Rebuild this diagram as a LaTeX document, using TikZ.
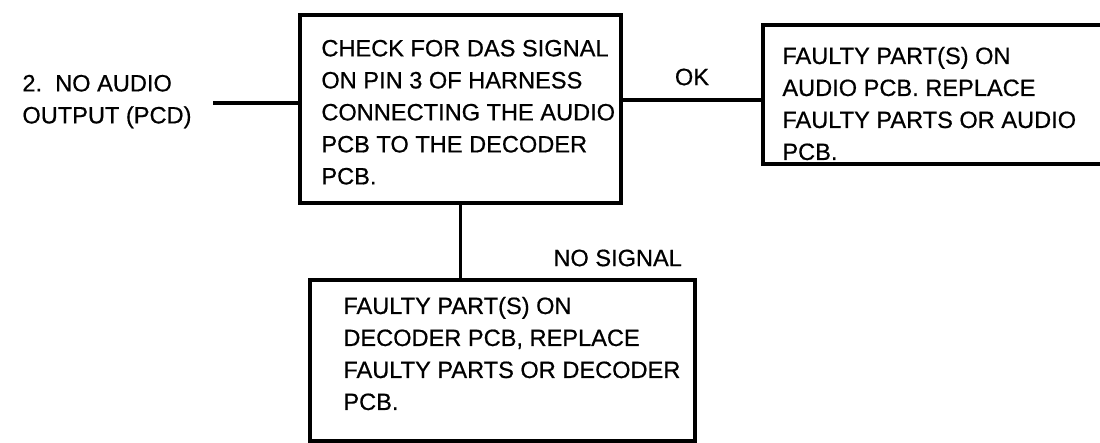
\documentclass[tikz,border=0pt]{standalone}
\usepackage{fontspec}
\setmainfont{Liberation Sans}[FakeBold=0.6]
\begin{document}
\begin{tikzpicture}[x=0.5pt,y=-0.5pt,
  box/.style={draw, line width=1.6pt, inner sep=0pt},
  txt/.style={inner sep=0pt, anchor=north west, align=left, font=\fontsize{11.8}{16}\selectfont},
  lbl/.style={inner sep=0pt, font=\fontsize{11.8}{16}\selectfont},
  conn/.style={line width=1.6pt}]
\clip (0,0) rectangle (1100,443);
\fill[white] (0,0) rectangle (1100,443);
% boxes
\node[box, minimum width=160.5pt, minimum height=94pt] (check) at (460.5,109) {};
\node[box, minimum width=173.5pt, minimum height=69.5pt] (audio) at (936.5,94.5) {};
\node[box, minimum width=192.5pt, minimum height=80.5pt] (decoder) at (502.5,360.5) {};
% texts
\node[txt] (start) at (22,74.5) {2.\ \ NO AUDIO\\OUTPUT (PCD)};
\node[txt] (checktxt) at (321,39.5) {CHECK FOR DAS SIGNAL\\ON PIN 3 OF HARNESS\\CONNECTING THE AUDIO\\PCB TO THE DECODER\\PCB.};
\node[txt] (audiotxt) at (782,46.5) {FAULTY PART(S) ON\\AUDIO PCB. REPLACE\\FAULTY PARTS OR AUDIO\\PCB.};
\node[txt] (decodertxt) at (343,296.5) {FAULTY PART(S) ON\\DECODER PCB, REPLACE\\FAULTY PARTS OR DECODER\\PCB.};
\node[lbl] (ok) at (692,77) {OK};
\node[lbl, anchor=west] (nosig) at (553,258) {NO SIGNAL};
% connectors
\coordinate (lstart) at (213,103);
\draw[conn] (lstart) -- (lstart -| check.west);
\draw[conn] ([yshift=4.5pt]check.east) -- ([yshift=4.5pt]check.east -| audio.west);
\draw[conn] (check.south) -- (check.south |- decoder.north);
\end{tikzpicture}
\end{document}
